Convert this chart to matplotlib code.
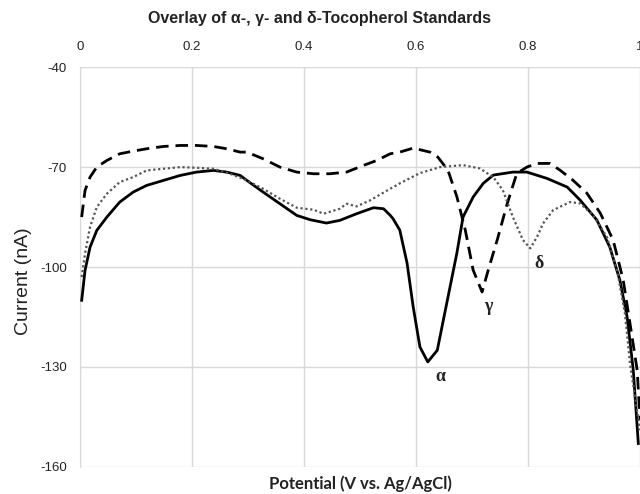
import matplotlib
matplotlib.use("Agg")
import matplotlib.pyplot as plt

plt.rcParams["axes.unicode_minus"] = False

# alpha-tocopherol (solid)
alpha_x = [0.003, 0.009, 0.018, 0.030, 0.048, 0.071, 0.095, 0.119, 0.149, 0.179, 0.208, 0.238,
           0.262, 0.286, 0.298, 0.327, 0.357, 0.387, 0.411, 0.440, 0.464, 0.494, 0.524, 0.542,
           0.554, 0.559, 0.571, 0.584, 0.595, 0.607, 0.621, 0.638, 0.655, 0.673, 0.684, 0.702,
           0.720, 0.738, 0.773, 0.798, 0.834, 0.870, 0.893, 0.923, 0.946, 0.964, 0.977, 0.988, 0.997]
alpha_y = [-110, -101, -94, -89, -85, -80.5, -77.5, -75.5, -74, -72.5, -71.5, -71,
           -71.5, -72.5, -74, -77.5, -81, -84.5, -85.8, -86.8, -86, -84, -82.2, -82.5,
           -84.5, -85.5, -88.9, -98.8, -112, -124, -128.5, -125, -110.8, -95.8, -85, -79,
           -74.9, -72.4, -71.5, -71.5, -73.4, -76, -79.9, -85.9, -94, -103.9, -115, -131, -153]

# gamma-tocopherol (dashed)
gamma_x = [0.003, 0.009, 0.018, 0.030, 0.048, 0.071, 0.095, 0.119, 0.149, 0.179, 0.208, 0.238,
           0.262, 0.286, 0.298, 0.327, 0.357, 0.387, 0.417, 0.446, 0.476, 0.506, 0.530, 0.554,
           0.571, 0.595, 0.625, 0.639, 0.657, 0.673, 0.688, 0.702, 0.718, 0.729, 0.745, 0.763,
           0.780, 0.798, 0.816, 0.839, 0.857, 0.880, 0.905, 0.929, 0.952, 0.970, 0.982, 0.995, 1.0]
gamma_y = [-85, -77, -73, -70, -68, -66, -65.2, -64.5, -63.8, -63.5, -63.5, -63.8,
           -64.5, -65.5, -65.5, -67.5, -70, -71.5, -72, -72, -71.5, -69.5, -68, -66,
           -65.5, -64.3, -65.5, -67, -70.9, -78.9, -88.9, -100.9, -107.5, -100.9, -91.9, -80.9,
           -71.9, -70, -68.9, -68.9, -70.9, -73.9, -77.8, -83.8, -91.9, -103.9, -116.8, -131, -146]

# delta-tocopherol (dotted)
delta_x = [0.003, 0.009, 0.018, 0.030, 0.048, 0.071, 0.095, 0.119, 0.149, 0.179, 0.208, 0.238,
           0.268, 0.298, 0.327, 0.357, 0.387, 0.417, 0.435, 0.464, 0.476, 0.494, 0.518, 0.554,
           0.571, 0.607, 0.643, 0.684, 0.714, 0.738, 0.755, 0.773, 0.791, 0.804, 0.816, 0.827,
           0.845, 0.875, 0.893, 0.916, 0.941, 0.959, 0.973, 0.982, 1.0]
delta_y = [-103, -96, -88, -82, -78, -74.5, -73, -71, -70.5, -70, -70.2, -70.5,
           -72, -74, -76.5, -79.5, -82.2, -82.8, -84, -82.5, -81, -81.8, -80, -76.5,
           -74.9, -71.8, -70, -69.4, -70.4, -73, -76.9, -85, -91.9, -94.4, -91, -86.9,
           -82.9, -80.5, -80.9, -84.4, -91, -100.9, -113.8, -128.8, -149]

x_ticks = [0, 0.2, 0.4, 0.6, 0.8, 1.0]
x_tick_labels = ["0", "0.2", "0.4", "0.6", "0.8", "1"]
y_ticks = [-40, -70, -100, -130, -160]
y_tick_labels = ["-40", "-70", "-100", "-130", "-160"]

peak_labels = ["\u03b1", "\u03b3", "\u03b4"]
peak_pos = [(0.643, -133), (0.729, -112), (0.820, -99)]

fig = plt.figure(figsize=(6.4, 4.94), dpi=100)
ax = fig.add_axes([0.125, 0.055, 0.875, 0.809])

ax.plot(alpha_x, alpha_y, color="black", lw=2.0, solid_joinstyle="round", zorder=3)
ax.plot(gamma_x, gamma_y, color="black", lw=2.0, linestyle=(0, (4.5, 2.5)), zorder=3)
ax.plot(delta_x, delta_y, color="#555555", lw=1.6, linestyle=(0, (1, 1.2)), zorder=3)

for lab, (px, py) in zip(peak_labels, peak_pos):
    ax.text(px, py, lab, fontsize=13, family="Liberation Serif", fontweight="bold",
            ha="center", va="center", color="#222222")

ax.set_xlim(0, 1)
ax.set_ylim(-160, -40)
ax.set_xticks(x_ticks)
ax.set_xticklabels(x_tick_labels)
ax.set_yticks(y_ticks)
ax.set_yticklabels(y_tick_labels)
ax.xaxis.tick_top()
ax.tick_params(axis="both", length=0, labelsize=9.5, colors="#222222",
               labelfontfamily="Liberation Sans")
ax.tick_params(axis="x", pad=10)
ax.tick_params(axis="y", pad=9.5)
ax.grid(True, color="#d9d9d9", lw=1.0)
for s in ax.spines.values():
    s.set_visible(False)
ax.spines["left"].set_visible(True)
ax.spines["left"].set_color("#d9d9d9")

fig.text(24 / 640, 0.431, "Current (nA)", fontsize=14, family="Liberation Sans",
         rotation=90, ha="center", va="center", color="#222222")
fig.text(0.5625, 0.02, "Potential (V vs. Ag/AgCl)", fontsize=12, fontweight="bold",
         family="Lato", ha="center", va="center", color="#222222")
fig.text(0.5, 0.962, "Overlay of \u03b1-, \u03b3- and \u03b4-Tocopherol Standards", fontsize=11.5,
         fontweight="bold", family="Liberation Sans", ha="center", va="center", color="#222222")

fig.savefig("out.png", dpi=100)
